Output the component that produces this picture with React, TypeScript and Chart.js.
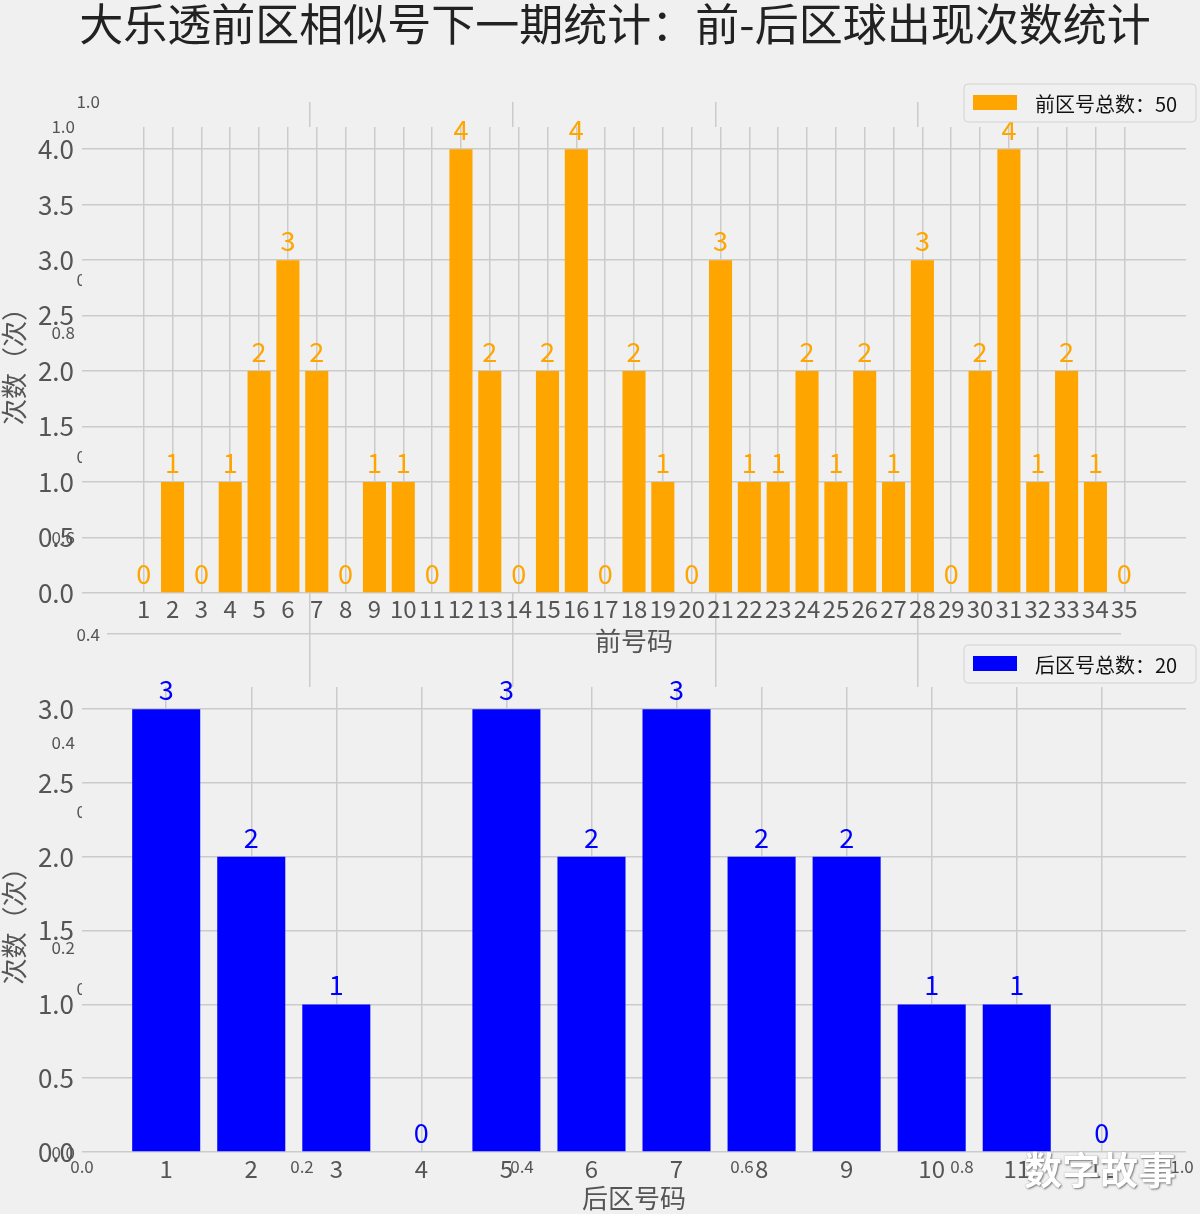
import React, { useEffect, useRef } from 'react';
import { Chart, registerables } from 'chart.js';

Chart.register(...registerables);

const FONT = '"Noto Sans CJK SC", "Noto Sans", sans-serif';
const BG = '#f0f0f0';
const GRID = '#cbcbcb';
const TICK_COLOR = '#555555';

const TITLE = '大乐透前区相似号下一期统计：前-后区球出现次数统计';
const WATERMARK = '数字故事';

const frontNumbers = [1, 2, 3, 4, 5, 6, 7, 8, 9, 10, 11, 12, 13, 14, 15, 16, 17, 18, 19, 20, 21, 22, 23, 24, 25, 26, 27, 28, 29, 30, 31, 32, 33, 34, 35];
const frontCounts = [0, 1, 0, 1, 2, 3, 2, 0, 1, 1, 0, 4, 2, 0, 2, 4, 0, 2, 1, 0, 3, 1, 1, 2, 1, 2, 1, 3, 0, 2, 4, 1, 2, 1, 0];
const backNumbers = [1, 2, 3, 4, 5, 6, 7, 8, 9, 10, 11, 12];
const backCounts = [3, 2, 1, 0, 3, 2, 3, 2, 2, 1, 1, 0];

const frontYTicks = [0, 0.5, 1, 1.5, 2, 2.5, 3, 3.5, 4];
const backYTicks = [0, 0.5, 1, 1.5, 2, 2.5, 3];
const ghostTicks = [0, 0.2, 0.4, 0.6, 0.8, 1.0];

const frontLegend = '前区号总数：' + frontCounts.reduce((a, b) => a + b, 0);
const backLegend = '后区号总数：' + backCounts.reduce((a, b) => a + b, 0);
const frontXTitle = '前号码';
const backXTitle = '后区号码';
const yTitle = '次数（次）';

const patchPlugin = {
  id: 'patch',
  beforeDraw(chart: any, _args: any, opts: any) {
    if (!opts || !opts.color) return;
    const { ctx, chartArea } = chart;
    ctx.save();
    ctx.fillStyle = opts.color;
    ctx.fillRect(chartArea.left, chartArea.top, chartArea.right - chartArea.left, chartArea.bottom - chartArea.top);
    ctx.restore();
  },
};

const valueLabelPlugin = {
  id: 'valueLabels',
  afterDatasetsDraw(chart: any, _args: any, opts: any) {
    if (!opts || !opts.enabled) return;
    const { ctx } = chart;
    const ds = chart.data.datasets[0];
    const meta = chart.getDatasetMeta(0);
    ctx.save();
    ctx.font = `${opts.size}px ${FONT}`;
    ctx.fillStyle = ds.backgroundColor;
    ctx.textAlign = 'center';
    ctx.textBaseline = 'alphabetic';
    meta.data.forEach((bar: any, i: number) => {
      const v = ds.data[i].y;
      ctx.fillText(String(v), bar.x, bar.y - opts.offset);
    });
    ctx.restore();
  },
};

const legendBoxPlugin = {
  id: 'legendBox',
  afterDraw(chart: any, _args: any, opts: any) {
    if (!opts || !opts.enabled) return;
    const { ctx } = chart;
    const ds = chart.data.datasets[0];
    const { x, y, w, h } = opts;
    ctx.save();
    ctx.beginPath();
    const r = 4;
    ctx.moveTo(x + r, y);
    ctx.lineTo(x + w - r, y);
    ctx.quadraticCurveTo(x + w, y, x + w, y + r);
    ctx.lineTo(x + w, y + h - r);
    ctx.quadraticCurveTo(x + w, y + h, x + w - r, y + h);
    ctx.lineTo(x + r, y + h);
    ctx.quadraticCurveTo(x, y + h, x, y + h - r);
    ctx.lineTo(x, y + r);
    ctx.quadraticCurveTo(x, y, x + r, y);
    ctx.closePath();
    ctx.fillStyle = BG;
    ctx.fill();
    ctx.strokeStyle = '#d2d2d2';
    ctx.lineWidth = 1;
    ctx.stroke();
    ctx.fillStyle = ds.backgroundColor;
    ctx.fillRect(x + 9, y + 11, 44, 15);
    ctx.fillStyle = '#111111';
    ctx.font = `20px ${FONT}`;
    ctx.textAlign = 'left';
    ctx.textBaseline = 'middle';
    ctx.fillText(ds.label, x + 71, y + h / 2 + 1);
    ctx.restore();
  },
};

function fixWidth(w: number) {
  return (scale: any) => {
    scale.width = w;
  };
}
function fixHeight(h: number) {
  return (scale: any) => {
    scale.height = h;
  };
}
function setTicks(values: number[]) {
  return (scale: any) => {
    scale.ticks = values.map((v) => ({ value: v }));
  };
}

function makeBarConfig(p: {
  numbers: number[];
  counts: number[];
  color: string;
  label: string;
  xMin: number;
  xMax: number;
  yMax: number;
  yTicks: number[];
  xTitle: string;
  padTop: number;
  xAxisHeight: number;
  xTickPad: number;
  titlePadBottom: number;
  legendY: number;
}) {
  return {
    type: 'bar',
    data: {
      datasets: [
        {
          label: p.label,
          data: p.numbers.map((n, i) => ({ x: n, y: p.counts[i] })),
          backgroundColor: p.color,
          borderWidth: 0,
          barPercentage: 0.8,
          categoryPercentage: 1.0,
        },
      ],
    },
    options: {
      responsive: false,
      animation: false,
      devicePixelRatio: 1,
      layout: { padding: { top: p.padTop, right: 14, left: 0, bottom: 0 } },
      plugins: {
        legend: { display: false },
        tooltip: { enabled: false },
        title: { display: false },
        patch: { color: BG },
        valueLabels: { enabled: true, size: 27, offset: 9 },
        legendBox: { enabled: true, x: 964, y: p.legendY, w: 232, h: 38 },
      },
      scales: {
        x: {
          type: 'linear',
          min: p.xMin,
          max: p.xMax,
          offset: false,
          afterBuildTicks: setTicks(p.numbers),
          afterFit: fixHeight(p.xAxisHeight),
          grid: { color: GRID, lineWidth: 1.5, drawTicks: false, offset: false },
          border: { display: false },
          ticks: {
            autoSkip: false,
            maxRotation: 0,
            padding: p.xTickPad,
            color: TICK_COLOR,
            font: { family: FONT, size: 24 },
            callback: (v: any) => String(v),
          },
          title: {
            display: true,
            text: p.xTitle,
            color: TICK_COLOR,
            font: { family: FONT, size: 26, lineHeight: 1 },
            padding: { top: 0, bottom: p.titlePadBottom },
          },
        },
        y: {
          type: 'linear',
          min: 0,
          max: p.yMax,
          afterBuildTicks: setTicks(p.yTicks),
          afterFit: fixWidth(82),
          grid: { color: GRID, lineWidth: 1.5, drawTicks: false },
          border: { display: false },
          ticks: {
            padding: 8,
            color: TICK_COLOR,
            font: { family: FONT, size: 26 },
            callback: (v: any) => Number(v).toFixed(1),
          },
          title: {
            display: true,
            text: yTitle,
            color: TICK_COLOR,
            font: { family: FONT, size: 26, lineHeight: 1 },
            padding: { top: 1, bottom: 0 },
          },
        },
      },
    },
    plugins: [patchPlugin, valueLabelPlugin, legendBoxPlugin],
  };
}

function makeGhostConfig(p: {
  padTop: number;
  padRight: number;
  yWidth: number;
  xHeight: number;
  xTickPad: number;
  grid: boolean;
}) {
  const gridColor = (c: any) =>
    p.grid && c.tick && c.tick.value > 0.01 && c.tick.value < 0.99 ? GRID : 'rgba(0,0,0,0)';
  return {
    type: 'scatter',
    data: { datasets: [{ data: [] as any[] }] },
    options: {
      responsive: false,
      animation: false,
      devicePixelRatio: 1,
      layout: { padding: { top: p.padTop, right: p.padRight, left: 0, bottom: 0 } },
      plugins: { legend: { display: false }, tooltip: { enabled: false } },
      scales: {
        x: {
          type: 'linear',
          min: 0,
          max: 1,
          afterBuildTicks: setTicks(ghostTicks),
          afterFit: fixHeight(p.xHeight),
          grid: { color: gridColor, lineWidth: 1.5, drawTicks: false },
          border: { display: false },
          ticks: {
            padding: p.xTickPad,
            color: TICK_COLOR,
            font: { family: FONT, size: 17 },
            callback: (v: any) => Number(v).toFixed(1),
          },
        },
        y: {
          type: 'linear',
          min: 0,
          max: 1,
          afterBuildTicks: setTicks(ghostTicks),
          afterFit: fixWidth(p.yWidth),
          grid: { color: gridColor, lineWidth: 1.5, drawTicks: false },
          border: { display: false },
          ticks: {
            padding: 7,
            color: TICK_COLOR,
            font: { family: FONT, size: 17 },
            callback: (v: any) => Number(v).toFixed(1),
          },
        },
      },
    },
  };
}

function ChartCanvas(props: { config: any; top: number; width: number; height: number }) {
  const ref = useRef<HTMLCanvasElement>(null);
  useEffect(() => {
    if (!ref.current) return;
    const chart = new Chart(ref.current, props.config);
    return () => chart.destroy();
  }, []);
  return (
    <canvas
      ref={ref}
      width={props.width}
      height={props.height}
      style={{ position: 'absolute', left: 0, top: props.top, width: props.width, height: props.height }}
    />
  );
}

export default function App() {
  const ghostA = makeGhostConfig({ padTop: 127, padRight: 18, yWidth: 82, xHeight: 1214 - 1153, xTickPad: 3, grid: false });
  const ghostB = makeGhostConfig({ padTop: 102, padRight: 79, yWidth: 107, xHeight: 1214 - 989, xTickPad: 3, grid: true });
  const top = makeBarConfig({
    numbers: frontNumbers,
    counts: frontCounts,
    color: '#FFA500',
    label: frontLegend,
    xMin: -1.14,
    xMax: 37.14,
    yMax: 4.2,
    yTicks: frontYTicks,
    xTitle: frontXTitle,
    padTop: 67,
    xAxisHeight: 67,
    xTickPad: 1,
    titlePadBottom: 6,
    legendY: 24,
  });
  const bottom = makeBarConfig({
    numbers: backNumbers,
    counts: backCounts,
    color: '#0000FF',
    label: backLegend,
    xMin: 0.01,
    xMax: 12.99,
    yMax: 3.15,
    yTicks: backYTicks,
    xTitle: backXTitle,
    padTop: 47,
    xAxisHeight: 62,
    xTickPad: 2,
    titlePadBottom: 3,
    legendY: 5,
  });
  return (
    <div style={{ position: 'absolute', left: 0, top: 0, width: 1200, height: 1214, background: BG, overflow: 'hidden' }}>
      <ChartCanvas config={ghostA} top={0} width={1200} height={1214} />
      <ChartCanvas config={ghostB} top={0} width={1200} height={1214} />
      <ChartCanvas config={top} top={60} width={1200} height={600} />
      <ChartCanvas config={bottom} top={640} width={1200} height={574} />
      <div
        style={{
          position: 'absolute',
          left: 0,
          top: -4,
          width: 1230,
          textAlign: 'center',
          fontFamily: FONT,
          fontSize: 44,
          lineHeight: '52px',
          color: '#222222',
          whiteSpace: 'nowrap',
        }}
      >
        {TITLE}
      </div>
      <div
        style={{
          position: 'absolute',
          left: 1024,
          top: 1144,
          fontFamily: FONT,
          fontSize: 38,
          fontWeight: 700,
          lineHeight: '48px',
          color: '#ffffff',
          textShadow: '1px 1px 2px #777, 0 0 1px #999',
          whiteSpace: 'nowrap',
        }}
      >
        {WATERMARK}
      </div>
    </div>
  );
}
